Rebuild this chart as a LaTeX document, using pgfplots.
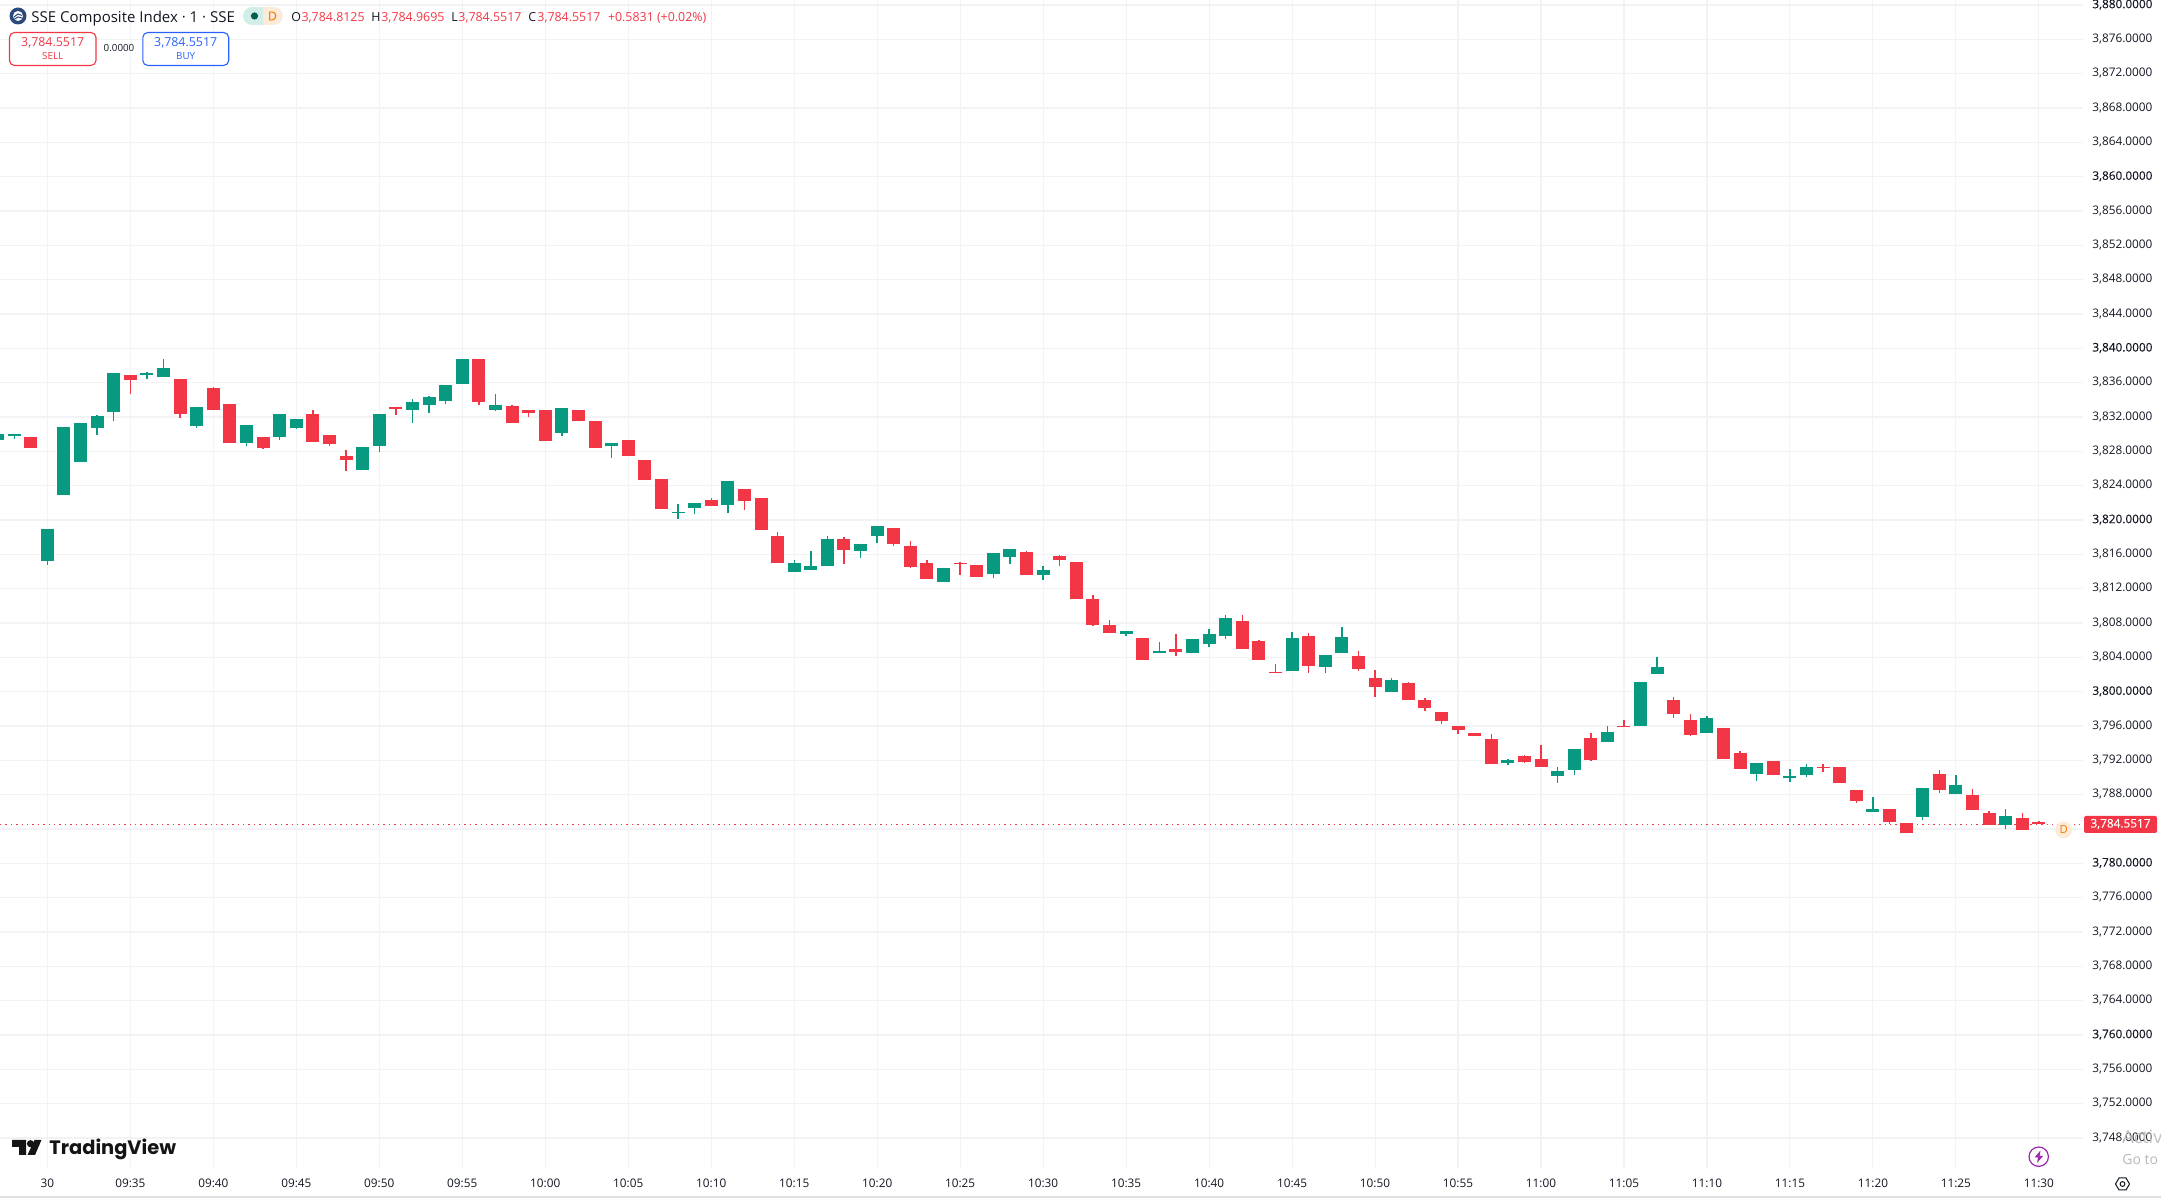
\documentclass[border=0pt]{standalone}
\usepackage{pgfplots}
\pgfplotsset{compat=1.18}
\usepackage{pgfplotstable}
\usepackage{fontspec}
\setmainfont{Open Sans}
\newfontfamily\semi[FakeBold=0.25]{Open Sans}
\newfontfamily\logofont{Poppins}
\definecolor{tvgreen}{HTML}{089981}
\definecolor{tvred}{HTML}{F23645}
\definecolor{tvblue}{HTML}{2962FF}
\definecolor{tvtext}{HTML}{131722}
\definecolor{tvgrid}{HTML}{F2F3F5}
\definecolor{tvorange}{HTML}{F57C00}
\definecolor{tvpurple}{HTML}{9C27B0}
\definecolor{tvnavy}{HTML}{2B4A7A}
\newcommand{\fs}[1]{\fontsize{#1}{#1}\selectfont}
% columns: minute index from 09:30, open, high, low, close
\pgfplotstableread{
i o h l c
-3 3829.32 3830.02 3829.32 3830.02
-2 3829.79 3830.02 3829.44 3830.02
0 3815.23 3818.95 3814.76 3818.95
1 3822.91 3830.84 3822.91 3830.84
2 3826.76 3831.30 3826.76 3831.30
3 3830.72 3832.23 3829.90 3832.12
4 3832.58 3837.13 3831.53 3837.13
6 3836.89 3837.24 3836.43 3837.13
7 3836.66 3838.76 3836.66 3837.71
9 3830.95 3833.17 3830.72 3833.17
12 3828.97 3831.07 3828.62 3831.07
14 3829.67 3832.35 3829.32 3832.35
15 3830.72 3831.77 3830.60 3831.77
19 3825.83 3828.51 3825.83 3828.51
20 3828.62 3832.35 3827.92 3832.35
22 3832.82 3834.10 3831.30 3833.75
23 3833.40 3834.45 3832.47 3834.33
24 3833.86 3835.73 3833.51 3835.73
25 3835.84 3838.76 3835.84 3838.76
27 3832.82 3834.68 3832.70 3833.40
31 3830.18 3833.09 3829.83 3833.09
34 3828.66 3829.01 3827.26 3829.01
38 3820.86 3821.91 3820.16 3820.93
39 3821.44 3822.02 3820.74 3822.02
41 3821.79 3824.58 3820.86 3824.58
45 3813.98 3815.38 3813.98 3815.03
46 3814.22 3816.43 3814.22 3814.68
47 3814.68 3818.18 3814.68 3817.83
49 3816.43 3817.25 3815.61 3817.25
50 3818.18 3819.34 3817.36 3819.34
54 3812.82 3814.45 3812.82 3814.45
57 3813.75 3816.20 3813.28 3816.20
58 3815.73 3816.66 3814.92 3816.66
60 3813.63 3814.68 3813.05 3814.22
65 3806.72 3807.07 3806.49 3807.07
67 3804.51 3805.79 3804.51 3804.74
69 3804.51 3806.14 3804.51 3806.14
70 3805.56 3807.30 3805.21 3806.72
71 3806.49 3808.93 3806.14 3808.58
75 3802.41 3806.95 3802.41 3806.25
77 3802.88 3804.27 3802.18 3804.27
78 3804.51 3807.54 3804.51 3806.37
81 3799.96 3801.59 3799.96 3801.36
88 3791.69 3792.16 3791.46 3792.04
91 3790.18 3791.23 3789.36 3790.76
92 3790.88 3793.32 3790.29 3793.32
94 3794.14 3796.00 3794.14 3795.30
96 3796.00 3801.13 3796.00 3801.13
97 3802.06 3804.04 3802.06 3802.87
100 3795.19 3797.17 3795.19 3796.93
103 3790.41 3791.69 3789.59 3791.69
105 3789.94 3790.99 3789.48 3790.18
106 3790.29 3791.58 3790.06 3791.23
110 3785.98 3787.73 3785.98 3786.33
113 3785.40 3788.78 3785.05 3788.78
115 3788.08 3790.29 3788.08 3789.13
118 3784.47 3786.33 3784.00 3785.52
}\greentable
\pgfplotstableread{
i o h l c
-1 3829.67 3829.67 3828.39 3828.39
5 3836.89 3836.89 3834.68 3836.31
8 3836.43 3836.43 3831.88 3832.35
10 3835.38 3835.49 3832.82 3832.82
11 3833.51 3833.51 3828.97 3828.97
13 3829.67 3829.67 3828.27 3828.39
16 3832.35 3832.82 3829.09 3829.09
17 3829.90 3829.90 3828.62 3828.86
18 3827.46 3828.16 3825.71 3826.99
21 3833.17 3833.17 3832.23 3832.93
26 3838.76 3838.76 3833.40 3833.75
28 3833.28 3833.40 3831.30 3831.30
29 3832.82 3832.82 3832.00 3832.47
30 3832.82 3832.82 3829.20 3829.20
32 3832.86 3832.86 3831.57 3831.57
33 3831.57 3831.57 3828.43 3828.43
35 3829.36 3829.36 3827.50 3827.50
36 3827.03 3827.03 3824.70 3824.70
37 3824.82 3824.82 3821.32 3821.32
40 3822.37 3822.60 3821.67 3821.67
42 3823.65 3823.65 3821.21 3822.25
43 3822.60 3822.60 3818.88 3818.88
44 3818.18 3818.64 3815.03 3815.03
48 3817.83 3818.06 3814.92 3816.55
51 3819.11 3819.11 3817.01 3817.25
52 3817.01 3817.59 3814.45 3814.57
53 3815.03 3815.38 3813.17 3813.17
55 3815.03 3815.15 3813.63 3814.92
56 3814.80 3814.80 3813.40 3813.40
59 3816.31 3816.43 3813.63 3813.63
61 3815.85 3815.96 3814.68 3815.38
62 3815.15 3815.15 3810.84 3810.84
63 3810.84 3811.30 3807.69 3807.81
64 3807.77 3808.35 3806.84 3806.84
66 3806.25 3806.25 3803.69 3803.69
68 3804.97 3806.72 3804.16 3804.62
72 3808.23 3808.93 3804.97 3804.97
73 3805.90 3806.02 3803.69 3803.69
74 3802.29 3803.23 3802.18 3802.18
76 3806.49 3806.84 3802.18 3802.99
79 3804.16 3804.74 3802.41 3802.64
80 3801.59 3802.53 3799.38 3800.55
82 3801.01 3801.13 3799.03 3799.03
83 3799.03 3799.26 3797.75 3798.10
84 3797.63 3797.63 3796.24 3796.59
85 3796.00 3796.00 3795.07 3795.54
86 3795.19 3795.19 3794.84 3794.84
87 3794.49 3795.07 3791.58 3791.58
89 3792.51 3792.63 3791.69 3791.81
90 3792.16 3793.79 3791.23 3791.23
93 3794.60 3795.19 3791.93 3792.04
95 3795.96 3796.70 3795.85 3795.85
98 3799.03 3799.38 3796.93 3797.40
99 3796.70 3797.40 3794.84 3794.95
101 3795.77 3795.77 3792.16 3792.16
102 3792.86 3793.09 3790.99 3790.99
104 3791.92 3791.92 3790.29 3790.29
107 3791.23 3791.58 3790.64 3791.11
108 3791.23 3791.23 3789.36 3789.36
109 3788.55 3788.55 3787.03 3787.27
111 3786.33 3786.33 3784.59 3784.82
112 3784.70 3784.70 3783.54 3783.54
114 3790.41 3790.88 3788.20 3788.55
116 3787.96 3788.66 3786.22 3786.22
117 3785.87 3786.10 3784.47 3784.47
119 3785.28 3785.87 3783.89 3783.89
120 3784.81 3784.97 3784.55 3784.55
}\redtable
\pgfplotsset{
 wick/.style={no markers,draw=none,forget plot,
   error bars/.cd,y dir=plus,y explicit,error mark=none,
   error bar style={draw=#1,solid,line width=0.7pt}},
 body/.style={no markers,draw=none,forget plot,
   error bars/.cd,y dir=plus,y explicit,error mark=none,
   error bar style={draw=#1,solid,line width=6.5pt}},
}
\begin{document}
\begin{tikzpicture}
\useasboundingbox (0,0) rectangle (1080.5pt,599pt);
\clip (0,0) rectangle (1080.5pt,599pt);
\begin{axis}[
  at={(0pt,15pt)},anchor=south west,
  scale only axis,width=1041.5pt,height=584pt,
  xmin=-2.856,xmax=122.66,ymin=3744.50,ymax=3880.58,
  axis line style={draw=none},
  tick style={draw=none},
  major tick length=0pt,
  grid=both,
  major grid style={color=tvgrid,line width=0.55pt},
  font=\fs{5.9},
  xtick={0,5,...,120},
  xticklabels={30,09:35,09:40,09:45,09:50,09:55,10:00,10:05,10:10,10:15,10:20,10:25,10:30,10:35,10:40,10:45,10:50,10:55,11:00,11:05,11:10,11:15,11:20,11:25,11:30},
  x tick label style={inner sep=0pt,anchor=base,yshift=-9.6pt,color=tvtext},
  ytick={3748,3752,...,3880},
  yticklabels={
   {3{,}748.0000},{3{,}752.0000},{3{,}756.0000},{\semi 3{,}760.0000},
   {3{,}764.0000},{3{,}768.0000},{3{,}772.0000},{3{,}776.0000},{\semi 3{,}780.0000},
   {},{3{,}788.0000},{3{,}792.0000},{3{,}796.0000},{\semi 3{,}800.0000},
   {3{,}804.0000},{3{,}808.0000},{3{,}812.0000},{3{,}816.0000},{\semi 3{,}820.0000},
   {3{,}824.0000},{3{,}828.0000},{3{,}832.0000},{3{,}836.0000},{\semi 3{,}840.0000},
   {3{,}844.0000},{3{,}848.0000},{3{,}852.0000},{3{,}856.0000},{\semi 3{,}860.0000},
   {3{,}864.0000},{3{,}868.0000},{3{,}872.0000},{3{,}876.0000},{\semi 3{,}880.0000}},
  yticklabel pos=right,
  y tick label style={inner sep=0pt,anchor=base west,xshift=4.5pt,yshift=-1.6pt,color=tvtext},
  clip=true,
]
\addplot[color=tvred,line width=0.6pt,dash pattern=on 0.7pt off 2pt,forget plot]
  coordinates {(-2.856,3784.55)(122.66,3784.55)};
\addplot[wick=tvgreen] table[x=i,y=l,y error plus expr=\thisrow{h}-\thisrow{l}] {\greentable};
\addplot[wick=tvred] table[x=i,y=l,y error plus expr=\thisrow{h}-\thisrow{l}] {\redtable};
\addplot[body=tvgreen] table[x=i,y=o,y error plus expr=\thisrow{c}-\thisrow{o}] {\greentable};
\addplot[body=tvred] table[x=i,y=c,y error plus expr=\thisrow{o}-\thisrow{c}] {\redtable};
\end{axis}
% interface furniture, in pixel coordinates of the screenshot
\begin{scope}[shift={(0,599pt)},x=0.5pt,y=-0.5pt]
 % title row
 \fill[tvnavy] (18,16) circle (8.5);
 \fill[white] (18,16) circle (5);
 \draw[tvnavy,line width=0.5pt] (14,17) -- (18,14) -- (22,15.5);
 \draw[tvnavy,line width=0.5pt] (14,19.5) -- (18,17) -- (22,18);
 \node[anchor=base west,inner sep=0pt,text=tvtext] at (31,22.5) {\fs{7.5}SSE Composite Index · 1 · SSE};
 \fill[tvgreen!18] (252,7) arc (-90:-270:9) -- (263,25) -- (263,7) -- cycle;
 \fill[tvorange!15] (263,7) -- (274,7) arc (-90:90:9) -- (263,25) -- cycle;
 \fill[tvgreen!60!black] (254.5,16) circle (3.6);
 \node[text=tvorange,inner sep=0pt] at (272.5,16) {\fs{6.2}\semi D};
 \begin{scope}[every node/.style={anchor=base west,inner sep=0pt}]
  \node[text=tvtext] at (291,22) {\fs{6.2}O};
  \node[text=tvred] at (301.2,22) {\fs{6.2}3,784.8125};
  \node[text=tvtext] at (371,22) {\fs{6.2}H};
  \node[text=tvred] at (381,22) {\fs{6.2}3,784.9695};
  \node[text=tvtext] at (451,22) {\fs{6.2}L};
  \node[text=tvred] at (458,22) {\fs{6.2}3,784.5517};
  \node[text=tvtext] at (528,22) {\fs{6.2}C};
  \node[text=tvred] at (537,22) {\fs{6.2}3,784.5517};
  \node[text=tvred] at (607.6,22) {\fs{6.2}+0.5831 (+0.02\%)};
 \end{scope}
 % sell / buy
 \draw[tvred,line width=0.55pt,fill=white,rounded corners=2.5pt] (9.5,32.5) rectangle (96,65.5);
 \draw[tvblue,line width=0.55pt,fill=white,rounded corners=2.5pt] (142.8,32.5) rectangle (228.7,65.5);
 \node[text=tvred,inner sep=0pt] at (52.7,43) {\fs{6.2}3,784.5517};
 \node[text=tvred,inner sep=0pt] at (52.7,56.5) {\fs{4.9}SELL};
 \node[text=tvblue,inner sep=0pt] at (185.7,43) {\fs{6.2}3,784.5517};
 \node[text=tvblue,inner sep=0pt] at (185.7,56.5) {\fs{4.9}BUY};
 \node[text=tvtext,inner sep=0pt] at (119,48.3) {\fs{4.9}0.0000};
 % last price tag
 \fill[tvred,rounded corners=1pt] (2084,816) rectangle (2157,833);
 \node[text=white,inner sep=0pt] at (2120.5,824) {\fs{5.9}\semi 3,784.5517};
 \fill[tvorange!15] (2063.7,830) circle (8.5);
 \node[text=tvorange,inner sep=0pt] at (2063.7,830) {\fs{5.6}D};
 % logo
 \fill[black!92] (12,1140) -- (26,1140) -- (26,1155) -- (19,1155) -- (19,1147) -- (12,1147) -- cycle;
 \fill[black!92] (30.5,1143.7) circle (3.6);
 \fill[black!92] (34.5,1140) -- (41.5,1140) -- (35,1155) -- (27.5,1155) -- cycle;
 \node[anchor=base west,inner sep=0pt,text=black!92] at (49,1154.5) {\fs{9.7}\logofont\bfseries TradingView};
 % lightning
 \draw[tvpurple,line width=0.6pt,fill=white] (2038.7,1156.7) circle (9.7);
 \fill[tvpurple] (2040.5,1150.5) -- (2034.5,1157.5) -- (2038,1157.5) -- (2037,1163) -- (2043,1156) -- (2039.5,1156) -- cycle;
 % settings hexagon
 \draw[tvtext,line width=0.5pt] (2115.5,1184) -- (2119,1178) -- (2126,1178) -- (2129.5,1184) -- (2126,1190) -- (2119,1190) -- cycle;
 \draw[tvtext,line width=0.5pt] (2122.5,1184) circle (2.4);
 % ghost text
 \node[anchor=base west,inner sep=0pt,text=black!25] at (2122,1144) {\fs{9}Activ};
 \node[anchor=base west,inner sep=0pt,text=black!28] at (2122,1165) {\fs{7}Go to};
 \fill[black!12] (0,1196.5) rectangle (2161,1198);
\end{scope}
\end{tikzpicture}
\end{document}
